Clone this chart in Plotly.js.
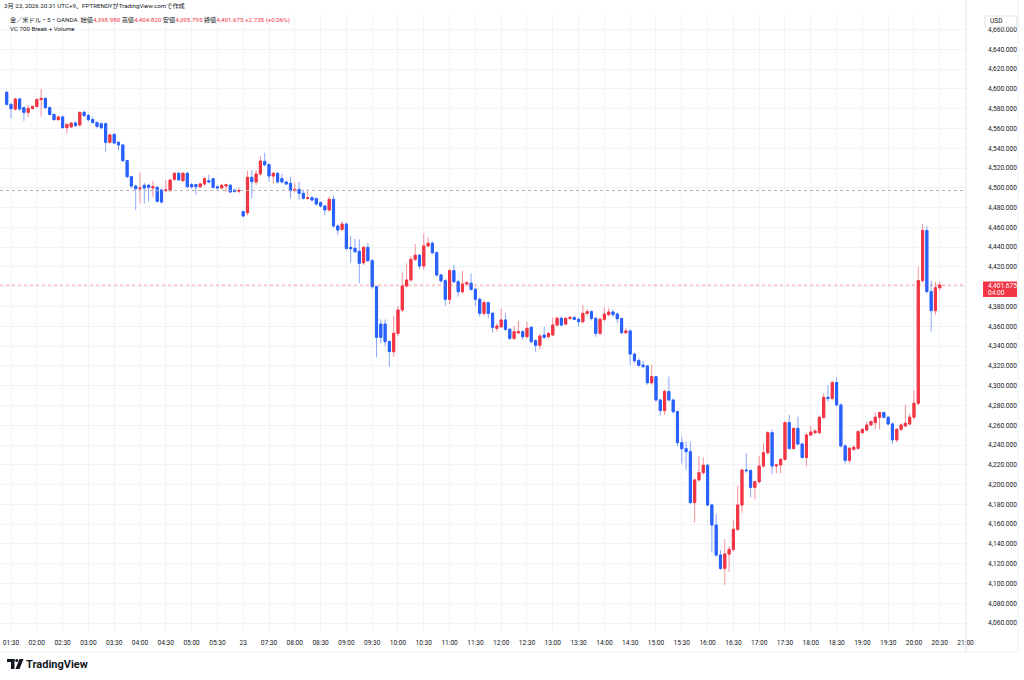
<!DOCTYPE html>
<html>
<head>
<meta charset="utf-8">
<script src="https://cdn.plot.ly/plotly-3.0.1.min.js"></script>
<style>
html,body{margin:0;padding:0;background:#fff;}
#chart{width:1024px;height:680px;}
</style>
</head>
<body>
<div id="chart"></div>
<script>
// ---- DATA (XAU/USD 5-minute candles, OANDA) ----
const openPrices = [
4596.5,4584.4,4579.6,4589.8,4581,4576.3,4580.3,4582.3,4589.1,4590.4,
4581,4574.2,4568.9,4571.6,4560.8,4561.5,4565.5,4563.5,4576.3,4573,
4569,4566,4564.8,4564.8,4546,4554,4546,4543.3,4527.5,4511.3,
4501.8,4499.1,4502.5,4502.5,4499.8,4500.5,4497.8,4497.1,4497.1,4508.5,
4514.6,4507.2,4514.6,4503.2,4503.2,4501.1,4503.9,4507.2,4509.2,4501.1,
4499.8,4501.8,4502.5,4497.8,4496.6,
4475.9,4474.8,4510.6,4505.9,4514,4526.7,4523.4,4511.9,4514.6,4509.2,
4505.9,4504.5,4497.1,4498.4,4494.4,4489.4,4490,4489,4485,4481.6,
4477.6,4488.3,4461.4,4458,4463.4,4439.8,4438.8,4435.8,4424.3,4439.8,
4426.4,4400.1,4362.3,4362.3,4344.5,4334.4,4352.9,4376.5,4400.8,4406.8,
4427.7,4431.8,4421,4441.2,4443.9,4434.4,4411.9,4406.1,4387.3,4416.2,
4405.1,4395,4402.8,4403.5,4397.4,4387.3,4373.1,4383.9,4373.1,4358,
4359.6,4366.4,4357,4347.8,4353.3,4354.6,4349.5,4359,4345.5,4340.8,
4351.2,4349.5,4351.2,4361.3,4368.1,4362.3,4367.8,4369,4367,4364.7,
4373.1,4374.8,4368.1,4352.9,4367.1,4371.8,4374.5,4372.4,4367.7,4353.6,
4355.3,4332,4325.3,4320.9,4319.9,4303,4309.1,4285.5,4274.8,4294,
4285.5,4273.7,4242.4,4236.3,4233.3,4181.8,4204.7,4212.1,4219.5,4179.4,
4159.1,4128.8,4115.3,4129.8,4134.5,4154.8,4179.4,4214.7,4214.1,4197.2,
4202.9,4218.8,4232.2,4252.5,4218.8,4219.8,4225.5,4262.6,4236.6,4256.8,
4241,4227.5,4250.1,4252.5,4252.5,4268,4288.2,4287.3,4303.1,4280.5,
4239.1,4224.5,4235.7,4236.7,4252.5,4255.2,4260.3,4262.7,4268.1,4272.8,
4268.1,4261.3,4245.2,4255.9,4259.3,4261.3,4268.1,4282.2,4406.2,4456.7,
4395.1,4375.9,4398.98
];
const highPrices = [
4598,4585.5,4591,4591,4582,4583.7,4583,4591,4599.9,4591.5,
4582,4575,4573,4573,4565,4566,4567,4577,4578,4575,
4572,4567,4566,4566,4555,4555,4547,4544,4528,4512,
4503,4515.3,4505,4504,4507.2,4502,4499,4507.9,4509,4516,
4516,4516,4516,4505,4504,4505,4511,4513.3,4510,4502,
4504,4504,4504,4499,4500.5,
4477,4517.3,4518,4518,4532.1,4535.5,4525,4516,4516,4514,
4507,4511.2,4505.2,4505.9,4497.8,4498.4,4491.7,4490.4,4486.3,4483,
4491,4492.7,4463,4466.1,4464.8,4451.3,4448.6,4447.9,4441,4444.5,
4428,4401,4367.1,4367,4346,4370.4,4380.5,4414.2,4423.7,4431.1,
4443.2,4433,4454,4450,4445.9,4436,4413,4408,4418,4422.3,
4407,4416.2,4406,4413.5,4399,4389,4386,4385,4375,4363,
4378.2,4373.1,4358,4360.3,4365.7,4356,4364.7,4360,4347,4352,
4359.6,4354,4369,4370,4370,4369,4370.5,4370,4369,4381.5,
4377.2,4376,4369,4369,4379.2,4378.5,4377.2,4374,4369,4358,
4357,4333,4328,4325.3,4321,4320.9,4310,4287,4296,4309.1,
4287,4275,4248.5,4243.4,4243.4,4206,4228.9,4227.6,4221,4181,
4170.3,4133.9,4144.7,4137.9,4164.2,4198.6,4216,4231.6,4216,4204,
4228.9,4241.7,4254,4255.8,4221,4227,4264,4270.3,4258,4268.6,
4242.4,4252,4259.2,4256,4270,4292.3,4300.7,4305,4308.5,4282,
4241,4238,4240,4255,4257,4263.7,4265,4272.8,4273.8,4274,
4269,4263,4257,4262,4280.5,4272.1,4295,4420.3,4463.5,4461.4,
4406.2,4405.2,4404.82
];
const lowPrices = [
4583,4570.2,4578,4578,4567.5,4571.6,4579,4581,4572,4580,
4573,4568,4568,4560,4554.7,4561,4562,4562,4572,4567,
4565,4560,4559,4536.5,4545,4544,4538,4526,4510,4500,
4477.6,4484.3,4484.3,4486,4491,4485,4484,4496,4496,4507,
4507,4506,4500,4499,4493,4500,4502,4505,4499,4499,
4499,4496,4495,4495,4494.4,
4470,4472,4489.4,4502.8,4512,4521.4,4506.2,4504.5,4504.5,4504.5,
4503,4489.4,4496,4487.7,4488,4488,4486,4482,4480,4472.5,
4476,4460,4452.3,4456,4437,4424.3,4434,4403.4,4422,4425,
4398,4328.6,4342.8,4340,4319.2,4329.3,4350,4374,4399,4405,
4426,4417.6,4417,4440,4433,4410,4404,4380.5,4382.5,4404,
4390,4393,4401,4396,4380.5,4369.7,4371,4368.1,4353.6,4355,
4358,4355,4346,4346,4352,4346.2,4348,4342.8,4334.4,4336.7,
4347,4348,4350,4360,4360,4361,4366.5,4366,4359.6,4363,
4370.4,4366,4349.5,4351,4365,4370,4369.8,4363,4352,4352,
4320.9,4322.6,4319,4318,4301,4301,4284,4269.4,4270.4,4284,
4272,4238.4,4221.5,4214.8,4180,4161.5,4203,4210,4178,4131.2,
4127,4113.7,4098.5,4112,4132,4153,4171.6,4212,4187.1,4185.1,
4201,4217,4230.5,4210.7,4211.4,4211.4,4224,4235,4235,4239.6,
4226,4218.8,4249,4250.8,4251,4266,4283.9,4285,4279,4237.5,
4221,4222,4234,4235,4251,4254,4259,4255.9,4255.9,4267,
4260,4241.1,4242.5,4254,4258,4260,4266,4280,4404,4393,
4354.6,4371.5,4395.795
];
const closePrices = [
4584.4,4580,4589.8,4579.6,4576.3,4580.3,4582.3,4589.1,4590.4,4581,
4574.2,4568.9,4571.6,4560.8,4564.1,4565.5,4562.8,4576.3,4573,4568.9,
4566,4562.1,4560.8,4546,4553.4,4545.3,4543.3,4527.5,4511.3,4501.8,
4499.1,4499.8,4499.8,4500.5,4501.1,4486.3,4485.6,4497.8,4507.9,4514.6,
4508,4514.6,4501.1,4501.1,4501.1,4503.9,4509.2,4505.9,4500.5,4499.8,
4502.5,4503.2,4495.8,4496.4,4497.3,
4471.5,4510.6,4506.2,4514,4527.1,4523.4,4511.9,4514.6,4505.9,4505.9,
4503.8,4497.1,4498.4,4494.4,4489.4,4490,4487.7,4483.6,4481.6,4477.6,
4488.3,4461.4,4457.3,4463.4,4438.8,4438.5,4435.4,4423.7,4439.8,4426.4,
4400.1,4348.9,4348.9,4344.5,4334.4,4352.9,4376.5,4400.8,4406.8,4427.7,
4431.8,4421,4441.2,4443.9,4434.4,4411.9,4406.1,4387.3,4416.2,4405.1,
4395,4402.8,4404.1,4397.4,4387.3,4373.1,4383.9,4373.1,4359,4360.3,
4366.4,4357,4347.8,4354.6,4354.6,4349.5,4357.9,4344.5,4340.8,4350.2,
4348.9,4352.9,4361.3,4368.1,4361.3,4368.1,4369,4367,4364.7,4373.1,
4374.8,4368.1,4352.9,4367.1,4372.4,4374.5,4371.8,4367.7,4353.6,4355.3,
4332,4325.3,4320.6,4319.2,4303,4309.1,4285.5,4274.8,4294,4285.5,
4273.7,4242.4,4236.3,4233.3,4181.8,4204.7,4212.1,4219.5,4179.4,4159.1,
4128.8,4115.3,4129.8,4134.5,4154.8,4179.4,4214.7,4214.1,4197.2,4202.9,
4218.8,4232.2,4252.5,4218.8,4219.8,4225.5,4262.6,4236.6,4256.8,4241,
4227.5,4250.1,4253.1,4254.1,4268,4288.2,4287,4303.1,4280.5,4239.1,
4224.5,4236.7,4237.7,4253.6,4255.9,4260.3,4263.7,4268.1,4272.8,4268.1,
4261.3,4245.2,4255.9,4260.3,4262,4268.1,4282.2,4406.2,4456.7,4395.1,
4375.9,4398.94,4401.675
];
// session slots: Friday 20th from 01:25 (55 bars), Monday 23rd from 07:00
const fridayStart = "01:25", fridayBars = 55;
const mondayStart = "07:00", mondaySlots = 170;
const tickSlots = ["20 01:30","20 02:00","20 02:30","20 03:00","20 03:30","20 04:00","20 04:30","20 05:00","20 05:30",
  "23 07:00","23 07:30","23 08:00","23 08:30","23 09:00","23 09:30","23 10:00","23 10:30","23 11:00","23 11:30",
  "23 12:00","23 12:30","23 13:00","23 13:30","23 14:00","23 14:30","23 15:00","23 15:30","23 16:00","23 16:30",
  "23 17:00","23 17:30","23 18:00","23 18:30","23 19:00","23 19:30","23 20:00","23 20:30","23 21:00"];
const tickLabels = ["01:30","02:00","02:30","03:00","03:30","04:00","04:30","05:00","05:30",
  "23","07:30","08:00","08:30","09:00","09:30","10:00","10:30","11:00","11:30",
  "12:00","12:30","13:00","13:30","14:00","14:30","15:00","15:30","16:00","16:30",
  "17:00","17:30","18:00","18:30","19:00","19:30","20:00","20:30","21:00"];
const yTicks = [4060,4080,4100,4120,4140,4160,4180,4200,4220,4240,4260,4280,4300,4320,4340,4360,4380,4400,
  4420,4440,4460,4480,4500,4520,4540,4560,4580,4600,4620,4640,4660];

// ---- build slots ----
function makeSlots(day, start, n){
  const [h,m] = start.split(":").map(Number);
  const out=[];
  for(let k=0;k<n;k++){
    const t=h*60+m+5*k;
    out.push(day+" "+String(Math.floor(t/60)).padStart(2,"0")+":"+String(t%60).padStart(2,"0"));
  }
  return out;
}
const allSlots = makeSlots("20",fridayStart,fridayBars).concat(makeSlots("23",mondayStart,mondaySlots));
const xIdx = closePrices.map((_,i)=>i);
const tickVals = tickSlots.map(s=>allSlots.indexOf(s));
const bodyHigh = openPrices.map((o,i)=>Math.max(o,closePrices[i]));
const bodyLow = openPrices.map((o,i)=>Math.min(o,closePrices[i]));
const N = closePrices.length;
const lastClose = closePrices[N-1];
const prevClose = closePrices[N-2];
const fridayClose = closePrices[fridayBars-1];
const fmt = v => v.toLocaleString("en-US",{minimumFractionDigits:3,maximumFractionDigits:3});
const chg = lastClose - prevClose;

const UP="#f23645", DN="#2962ff";
const FONT="Roboto, 'Noto Sans CJK JP', sans-serif";
const TXT="#131722";

const wicks = {
  type:"candlestick", x:xIdx, open:openPrices, high:highPrices, low:lowPrices, close:closePrices,
  increasing:{line:{color:"rgba(242,54,69,0.55)",width:1},fillcolor:UP},
  decreasing:{line:{color:"rgba(41,98,255,0.55)",width:1},fillcolor:DN},
  whiskerwidth:0, hoverinfo:"skip", showlegend:false
};
const bodies = {
  type:"candlestick", x:xIdx, open:openPrices, high:bodyHigh, low:bodyLow, close:closePrices,
  increasing:{line:{color:UP,width:1},fillcolor:UP},
  decreasing:{line:{color:DN,width:1},fillcolor:DN},
  whiskerwidth:0, hoverinfo:"skip", showlegend:false
};

const PW=966, PT=14, PB=632, PH=PB-PT;
const px = v => v/PW;
const py = v => (PB-v)/PH;

const red = s => "<span style='color:"+UP+"'>"+s+"</span>";
const header2 = "金／米ドル・5・OANDA  始値"+red(fmt(openPrices[N-1]))+
  " 高値"+red(fmt(highPrices[N-1]))+
  " 安値"+red(fmt(lowPrices[N-1]))+
  " 終値"+red(fmt(lastClose))+
  " "+red("+"+chg.toFixed(3)+" (+"+(chg/prevClose*100).toFixed(2)+"%)");

const HF = 6.2;
const layout = {
  width:1024, height:680,
  margin:{l:0,r:1024-PW,t:PT,b:680-PB,pad:0},
  paper_bgcolor:"#ffffff", plot_bgcolor:"#ffffff",
  font:{family:FONT,color:TXT,size:6.6},
  showlegend:false, dragmode:false, boxmode:"overlay",
  xaxis:{type:"linear", range:[-1.56,223.1], tickvals:tickVals, ticktext:tickLabels,
    showgrid:true, gridcolor:"#f2f3f7", gridwidth:1, zeroline:false, showline:false, ticks:"",
    tickfont:{size:6.6,color:TXT,family:FONT}, ticklabelstandoff:5,
    rangeslider:{visible:false}, fixedrange:true},
  yaxis:{side:"right", range:[4051,4675.7], tickvals:yTicks, tickformat:",.3f",
    showgrid:true, gridcolor:"#f2f3f7", gridwidth:1, zeroline:false, showline:false, ticks:"",
    tickfont:{size:6.6,color:TXT,family:FONT}, ticklabelstandoff:21, fixedrange:true},
  shapes:[
    {type:"line",xref:"paper",yref:"y",x0:0,x1:1,y0:fridayClose,y1:fridayClose,line:{color:"#b2b5be",width:1,dash:"dot"}},
    {type:"line",xref:"paper",yref:"y",x0:0,x1:1,y0:lastClose,y1:lastClose,line:{color:"rgba(242,54,69,0.5)",width:1,dash:"dot"}},
    {type:"line",xref:"paper",yref:"paper",x0:1,x1:1,y0:py(652),y1:py(0),line:{color:"#e0e3eb",width:1}},
    {type:"line",xref:"paper",yref:"paper",x0:0,x1:px(1018),y0:py(652),y1:py(652),line:{color:"#eceef2",width:1}},
    {type:"line",xref:"paper",yref:"paper",x0:px(1018),x1:px(1018),y0:py(652),y1:py(0),line:{color:"#eceef2",width:1}},
    {type:"rect",xref:"paper",yref:"paper",x0:px(983),x1:px(1017),y0:py(297),y1:py(281.5),fillcolor:UP,line:{width:0},layer:"above"},
    {type:"rect",xref:"paper",yref:"paper",x0:px(985),x1:px(1017),y0:py(27),y1:py(16),fillcolor:"#ffffff",line:{color:"#e0e3eb",width:1},layer:"above"},
    // TradingView logo glyph
    {type:"rect",xref:"paper",yref:"paper",x0:px(7),x1:px(14.5),y0:py(662),y1:py(659),fillcolor:"#131722",line:{width:0}},
    {type:"rect",xref:"paper",yref:"paper",x0:px(11),x1:px(14.5),y0:py(669),y1:py(659),fillcolor:"#131722",line:{width:0}},
    {type:"circle",xref:"paper",yref:"paper",x0:px(15.3),x1:px(18.3),y0:py(662),y1:py(659),fillcolor:"#131722",line:{width:0}},
    {type:"path",xref:"paper",yref:"paper",path:"M "+px(19.5)+" "+py(659)+" L "+px(23.5)+" "+py(659)+" L "+px(19.5)+" "+py(669)+" L "+px(15.5)+" "+py(669)+" Z",fillcolor:"#131722",line:{width:0}}
  ],
  annotations:[
    {xref:"paper",yref:"paper",x:px(2),y:py(6),xanchor:"left",yanchor:"middle",showarrow:false,
      text:"3月 23, 2026 20:31 UTC+9、FPTRENDYがTradingView.comで作成",font:{size:HF,color:TXT,family:FONT}},
    {xref:"paper",yref:"paper",x:px(8),y:py(20.5),xanchor:"left",yanchor:"middle",showarrow:false,
      text:header2,font:{size:HF,color:TXT,family:FONT}},
    {xref:"paper",yref:"paper",x:px(8),y:py(29.5),xanchor:"left",yanchor:"middle",showarrow:false,
      text:"VC 700 Break + Volume",font:{size:HF,color:TXT,family:FONT}},
    {xref:"paper",yref:"paper",x:px(986),y:py(285.5),xanchor:"left",yanchor:"middle",showarrow:false,
      text:fmt(lastClose),font:{size:6.6,color:"#ffffff",family:FONT}},
    {xref:"paper",yref:"paper",x:px(986),y:py(293),xanchor:"left",yanchor:"middle",showarrow:false,
      text:"04:00",font:{size:6.6,color:"#ffffff",family:FONT}},
    {xref:"paper",yref:"paper",x:px(988),y:py(21.5),xanchor:"left",yanchor:"middle",showarrow:false,
      text:"USD",font:{size:6.6,color:TXT,family:FONT}},
    {xref:"paper",yref:"paper",x:px(24),y:py(664),xanchor:"left",yanchor:"middle",showarrow:false,
      text:"<b>TradingView</b>",font:{size:11,color:"#131722",family:FONT}}
  ]
};

Plotly.newPlot("chart",[wicks,bodies],layout,{displayModeBar:false,staticPlot:true});
</script>
</body>
</html>
